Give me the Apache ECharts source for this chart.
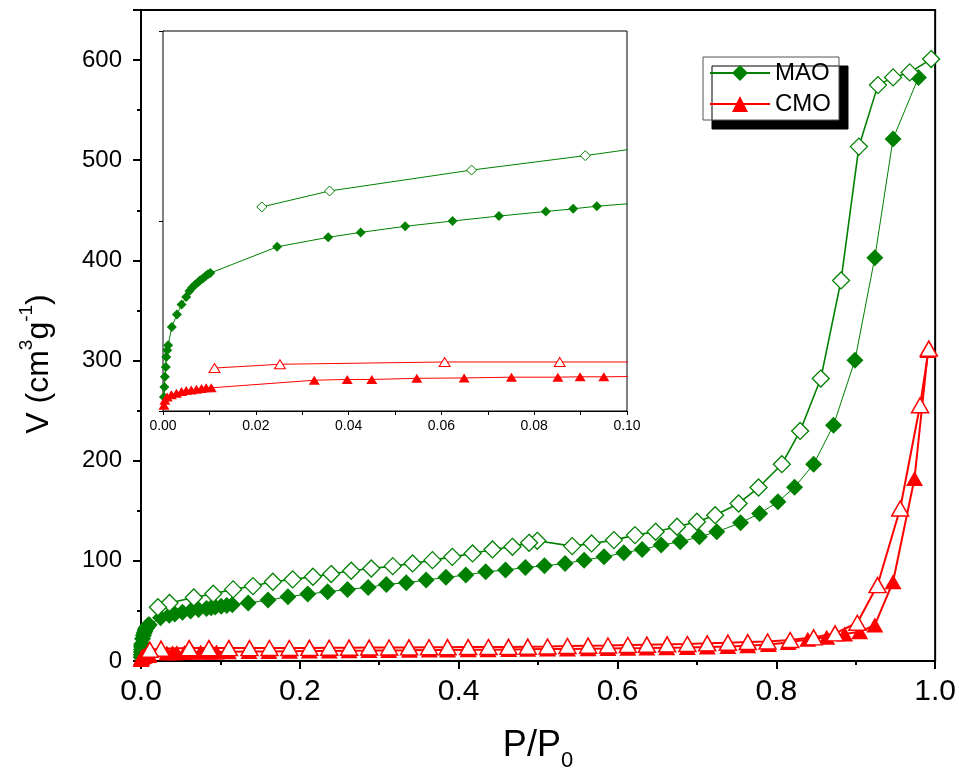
<!DOCTYPE html>
<html>
<head>
<meta charset="utf-8">
<script src="https://cdn.jsdelivr.net/npm/echarts@6/dist/echarts.min.js"></script>
<style>
html,body{margin:0;padding:0;background:#fff;}
#c{width:959px;height:776px;}
</style>
</head>
<body>
<div id="c"></div>
<script>
// ---- Data (P/P0, V cm3/g) ----
const maoAdsP = [0.0002,0.0003,0.0004,0.0006,0.0007,0.0009,0.0011,0.0019,0.0030,0.0040,0.0050,0.0057,0.0063,0.0069,0.0075,0.0080,0.0086,0.0092,0.0097,0.0102,0.0246,0.0356,0.0426,0.0522,0.0624,0.0724,0.0825,0.0884,0.0935,0.101,0.108,0.115,0.135,0.160,0.185,0.210,0.235,0.260,0.286,0.309,0.334,0.359,0.384,0.409,0.434,0.459,0.484,0.508,0.534,0.558,0.583,0.608,0.631,0.655,0.679,0.703,0.725,0.755,0.779,0.802,0.823,0.847,0.872,0.899,0.924,0.947,0.979];
const maoAdsV = [3.7,6.3,9.0,11.6,14.2,16.0,17.3,22.1,25.4,28.0,30.0,31.6,32.5,33.2,33.8,34.4,34.9,35.5,36.0,36.3,43.2,45.7,47.0,48.6,50.0,51.3,52.5,53.2,53.9,54.6,55.4,56.2,58.0,60.8,64.1,66.8,69.1,71.5,73.5,76.5,78.1,80.8,83.5,85.8,89.1,90.8,93.4,95.0,97.4,100.7,104.0,108.0,111.4,115.7,119.0,124.0,129.0,138.0,147.3,158.9,173.5,196.5,235.4,300.2,402.6,521.3,582.7];

const maoDesP = [0.995,0.968,0.947,0.928,0.904,0.8815,0.856,0.830,0.807,0.7776,0.7525,0.723,0.700,0.675,0.648,0.622,0.5955,0.5674,0.543,0.499,0.4887,0.4677,0.4426,0.4175,0.392,0.367,0.342,0.317,0.290,0.2647,0.2395,0.2165,0.191,0.166,0.141,0.116,0.0910,0.0665,0.0359,0.0213];
const maoDesV = [601,587.7,582.7,575,513.6,380,282,229.7,196.5,173.2,157.3,145.6,139,134,129,125.7,120.7,117.4,114.7,120,118,114,111.4,107.4,104,100.7,97.4,94.7,92.4,90.1,86.8,84.1,81.5,79.1,74.8,71.5,67.2,63.4,57.9,53.7];

const cmoAdsP = [0.0002,0.0004,0.0009,0.0018,0.0029,0.0040,0.0050,0.0061,0.0072,0.0083,0.0093,0.0104,0.0326,0.0397,0.0450,0.0547,0.0649,0.0751,0.0851,0.0899,0.0950,0.110,0.136,0.161,0.187,0.212,0.237,0.262,0.287,0.312,0.338,0.363,0.386,0.412,0.437,0.463,0.487,0.512,0.537,0.563,0.588,0.613,0.637,0.662,0.688,0.713,0.739,0.764,0.790,0.815,0.8396,0.8635,0.886,0.905,0.924,0.947,0.974,0.991];
const cmoAdsV = [1.5,2.8,3.7,4.3,4.7,5.1,5.4,5.5,5.7,5.9,6.1,6.1,8.1,8.3,8.3,8.6,8.7,8.9,8.9,9.0,9.0,9.2,9.4,9.6,9.8,10.0,10.1,10.3,10.4,10.6,10.7,10.9,11.0,11.2,11.3,11.5,11.7,11.9,12.1,12.3,12.5,12.8,13.0,13.3,13.6,14.0,14.5,15.2,16.5,18.5,21.6,23.6,26.9,29.2,35.9,79.1,182.2,310];

const cmoDesP = [0.992,0.981,0.956,0.9275,0.902,0.874,0.847,0.8175,0.789,0.764,0.739,0.713,0.688,0.6625,0.637,0.613,0.588,0.563,0.537,0.512,0.487,0.4627,0.4375,0.412,0.386,0.3627,0.3375,0.3124,0.2873,0.262,0.237,0.212,0.1868,0.1617,0.1366,0.1106,0.0855,0.0607,0.0252,0.0111];
const cmoDesV = [311.9,255.3,152.3,75.8,38.2,27.6,23.6,21.0,19.5,18.9,18.3,17.6,17.0,16.6,16.3,16.0,15.5,15.3,15.0,14.5,14.3,14.1,14.0,13.9,13.8,13.7,13.6,13.5,13.4,13.3,13.2,13.1,13.0,13.0,12.9,12.9,12.9,12.9,12.3,11.3];

const legendNames = ['MAO','CMO'];

const GREEN = '#008000';
const RED = '#ff0000';
const FONT = 'Liberation Sans, Arial, sans-serif';
const NARROW = 'Liberation Sans Narrow, Liberation Sans, Arial, sans-serif';

function pairs(p, v){ return p.map((x,i)=>[x, v[i]]); }

const chart = echarts.init(document.getElementById('c'), null, {renderer:'canvas'});

function mainSeries(name, p, v, opts){
  return Object.assign({
    name: name, type: 'line', xAxisIndex: 0, yAxisIndex: 0,
    data: pairs(p, v), showAllSymbol: true, animation: false, clip: true
  }, opts);
}
function insetSeries(name, p, v, opts){
  return Object.assign({
    name: name, type: 'line', xAxisIndex: 1, yAxisIndex: 2,
    data: pairs(p, v), showAllSymbol: true, animation: false, clip: true, z: 5
  }, opts);
}

const option = {
  backgroundColor: '#fff',
  animation: false,
  grid: [
    {left: 141, top: 10, width: 796, height: 651, show: true, borderColor: '#000', borderWidth: 2, backgroundColor: 'transparent'},
    {left: 163, top: 31, width: 464, height: 380, show: true, borderColor: '#000', borderWidth: 1, backgroundColor: '#fff', z: 3}
  ],
  legend: {
    data: legendNames,
    left: 703, top: 57,
    orient: 'vertical',
    itemWidth: 60, itemHeight: 20, itemGap: 7,
    padding: [4, 8, 4, 6],
    backgroundColor: '#fff', borderColor: '#555', borderWidth: 1,
    shadowColor: '#000', shadowBlur: 0, shadowOffsetX: 9, shadowOffsetY: 9,
    textStyle: {fontFamily: FONT, fontSize: 24, color: '#000'},
    selectedMode: false
  },
  xAxis: [
    {gridIndex: 0, type: 'value', min: 0, max: 1, interval: 0.2,
     axisLine: {lineStyle: {color: '#000', width: 2}},
     axisTick: {inside: false, length: 8, lineStyle: {color: '#000', width: 2}},
     minorTick: {show: true, splitNumber: 2, length: 4, lineStyle: {color: '#000', width: 2}},
     splitLine: {show: false},
     axisLabel: {fontFamily: NARROW, fontSize: 30, color: '#000', margin: 16, formatter: v => v.toFixed(1)}},
    {gridIndex: 1, type: 'value', min: 0, max: 0.1, interval: 0.02,
     axisLine: {lineStyle: {color: '#000', width: 1}},
     axisTick: {inside: false, length: 4, lineStyle: {color: '#000'}},
     minorTick: {show: true, splitNumber: 2, length: 4, lineStyle: {color: '#000'}},
     splitLine: {show: false},
     axisLabel: {fontFamily: FONT, fontSize: 14, color: '#000', margin: 8, formatter: v => v.toFixed(2)}},
    {gridIndex: 1, type: 'value', position: 'top', min: 0, max: 0.1, interval: 0.01,
     axisLine: {show: false},
     axisTick: {inside: true, length: 3, lineStyle: {color: '#000'}},
     splitLine: {show: false}, axisLabel: {show: false}}
  ],
  yAxis: [
    {gridIndex: 0, type: 'value', position: 'left', min: 0, max: 650, interval: 100,
     axisLine: {lineStyle: {color: '#000', width: 2}},
     axisTick: {inside: false, length: 8, lineStyle: {color: '#000', width: 2}},
     splitLine: {show: false},
     axisLabel: {fontFamily: FONT, fontSize: 24, color: '#000', margin: 19,
                 formatter: v => (v % 100 === 0 ? String(v) : '')}},
    {gridIndex: 0, type: 'value', position: 'left', min: 0, max: 650, interval: 50,
     axisLine: {show: false},
     axisTick: {inside: false, length: 4, lineStyle: {color: '#000', width: 2}},
     splitLine: {show: false}, axisLabel: {show: false}},
    {gridIndex: 1, type: 'value', position: 'left', min: 0, max: 100, interval: 50,
     axisLine: {lineStyle: {color: '#000', width: 1}},
     axisTick: {inside: true, length: 4, lineStyle: {color: '#000'}},
     splitLine: {show: false}, axisLabel: {show: false}},
    {gridIndex: 1, type: 'value', position: 'right', min: 0, max: 100, interval: 50,
     axisLine: {show: false},
     axisTick: {inside: true, length: 4, lineStyle: {color: '#000'}},
     splitLine: {show: false}, axisLabel: {show: false}}
  ],
  series: [
    mainSeries('MAO', maoAdsP, maoAdsV, {
      symbol: 'diamond', symbolSize: 17, z: 2,
      itemStyle: {color: GREEN},
      lineStyle: {color: GREEN, width: 1}
    }),
    mainSeries('CMO', cmoAdsP, cmoAdsV, {
      symbol: 'triangle', symbolSize: [17, 15], z: 2,
      itemStyle: {color: RED},
      lineStyle: {color: RED, width: 2}
    }),
    mainSeries('MAO', maoDesP, maoDesV, {
      symbol: 'diamond', symbolSize: 17, z: 3,
      itemStyle: {color: '#fff', borderColor: GREEN, borderWidth: 1.3},
      lineStyle: {color: GREEN, width: 1.6}
    }),
    mainSeries('CMO', cmoDesP, cmoDesV, {
      symbol: 'triangle', symbolSize: [17, 15], z: 3,
      itemStyle: {color: '#fff', borderColor: RED, borderWidth: 1.5},
      lineStyle: {color: RED, width: 2}
    }),
    insetSeries('MAO inset ads', maoAdsP, maoAdsV, {
      symbol: 'diamond', symbolSize: 10,
      itemStyle: {color: GREEN}, lineStyle: {color: GREEN, width: 1}
    }),
    insetSeries('MAO inset des', maoDesP, maoDesV, {
      symbol: 'diamond', symbolSize: 10,
      itemStyle: {color: '#fff', borderColor: GREEN, borderWidth: 1}, lineStyle: {color: GREEN, width: 1}
    }),
    insetSeries('CMO inset ads', cmoAdsP, cmoAdsV, {
      symbol: 'triangle', symbolSize: [11, 9],
      itemStyle: {color: RED}, lineStyle: {color: RED, width: 1}
    }),
    insetSeries('CMO inset des', cmoDesP, cmoDesV, {
      symbol: 'triangle', symbolSize: [11, 9],
      itemStyle: {color: '#fff', borderColor: RED, borderWidth: 1}, lineStyle: {color: RED, width: 1}
    })
  ],
  graphic: [
    {type: 'text', x: 36, y: 364, rotation: Math.PI / 2, z: 10,
     style: {text: '{a|V (cm}{s|3}{a|g}{s|-1}{a|)}', align: 'center', verticalAlign: 'middle', fill: '#000',
       rich: {
         a: {fontFamily: FONT, fontSize: 32, fill: '#000', lineHeight: 38, verticalAlign: 'bottom'},
         s: {fontFamily: FONT, fontSize: 19, fill: '#000', lineHeight: 38, verticalAlign: 'top'}
       }}},
    {type: 'text', x: 538, y: 750, z: 10,
     style: {text: '{a|P/P}{b|0}', align: 'center', verticalAlign: 'middle', fill: '#000',
       rich: {
         a: {fontFamily: NARROW, fontSize: 36, fill: '#000', lineHeight: 44, verticalAlign: 'top'},
         b: {fontFamily: NARROW, fontSize: 22, fill: '#000', lineHeight: 44, verticalAlign: 'bottom'}
       }}}
  ]
};
chart.setOption(option);
</script>
</body>
</html>
